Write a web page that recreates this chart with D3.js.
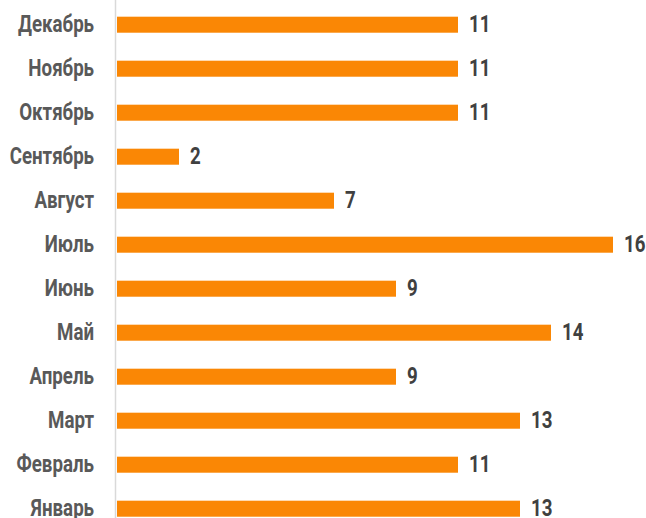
<!DOCTYPE html>
<html>
<head>
<meta charset="utf-8">
<script src="https://cdn.jsdelivr.net/npm/d3@7"></script>
<style>
  html, body { margin: 0; padding: 0; background: #fff; }
  text { font-family: "Roboto", sans-serif; font-weight: bold; }
</style>
</head>
<body>
<svg id="chart"></svg>
<script>
// data, top to bottom
var months = ["Декабрь", "Ноябрь", "Октябрь", "Сентябрь", "Август", "Июль",
              "Июнь", "Май", "Апрель", "Март", "Февраль", "Январь"];
var values = [11, 11, 11, 2, 7, 16, 9, 14, 9, 13, 11, 13];

var width = 646, height = 518;
var squeeze = 0.78;   // fake a condensed face

var svg = d3.select("#chart")
    .attr("width", width)
    .attr("height", height);

// scales
var x = d3.scaleLinear()
    .domain([0, 16])
    .range([117, 613]);

var y = d3.scaleBand()
    .domain(months)
    .range([2.7, 530.7])
    .paddingInner(0.636)
    .paddingOuter(0.318);

// bars
svg.selectAll(".bar")
    .data(months)
    .enter().append("rect")
    .attr("class", "bar")
    .attr("x", x(0))
    .attr("y", d => y(d))
    .attr("width", (d, i) => x(values[i]) - x(0))
    .attr("height", y.bandwidth())
    .attr("fill", "#fa8705");

// axis line
svg.append("line")
    .attr("x1", x(0) - 1.5).attr("x2", x(0) - 1.5)
    .attr("y1", 0).attr("y2", height)
    .attr("stroke", "#d9d9d9")
    .attr("stroke-width", 1.5);

// category labels
svg.selectAll(".cat")
    .data(months)
    .enter().append("text")
    .attr("class", "cat")
    .attr("transform", d => "translate(94," + (y(d) + y.bandwidth() / 2 - 1) + ") scale(" + squeeze + ",1)")
    .attr("dy", "0.35em")
    .attr("text-anchor", "end")
    .style("font-size", "24px")
    .style("fill", "#595959")
    .text(d => d);

// value labels
svg.selectAll(".val")
    .data(months)
    .enter().append("text")
    .attr("class", "val")
    .attr("transform", (d, i) => "translate(" + (x(values[i]) + 11) + "," + (y(d) + y.bandwidth() / 2 - 1) + ") scale(" + squeeze + ",1)")
    .attr("dy", "0.35em")
    .style("font-size", "24px")
    .style("fill", "#404040")
    .text((d, i) => values[i]);
</script>
</body>
</html>
